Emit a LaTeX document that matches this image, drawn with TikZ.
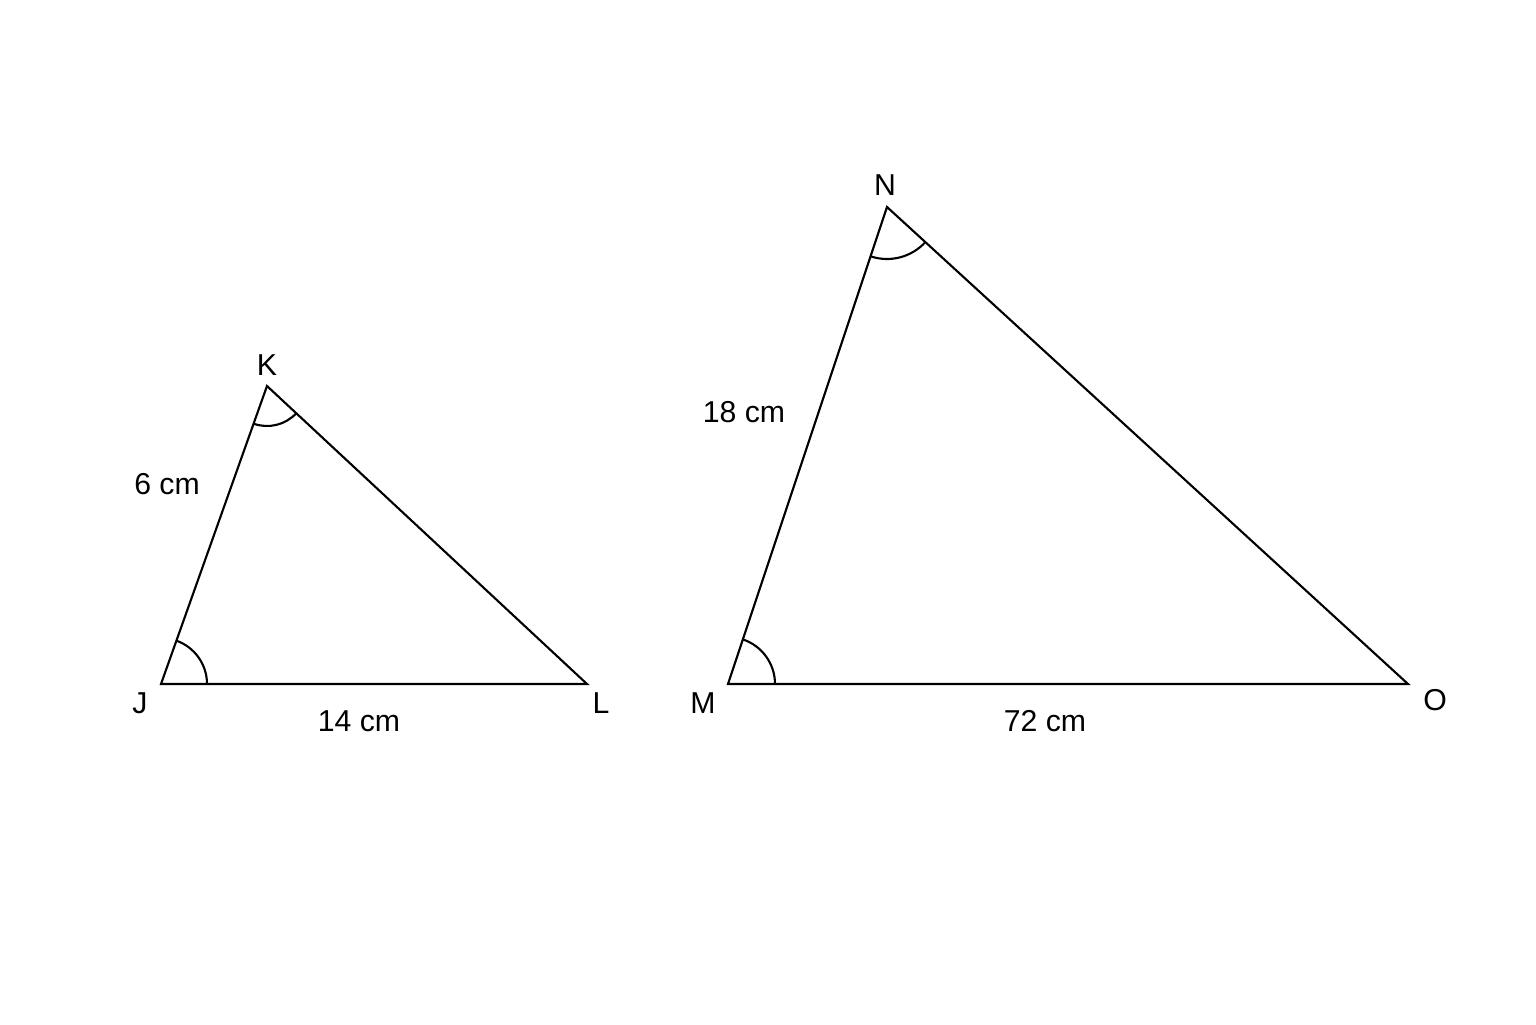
\documentclass[tikz,border=0pt]{standalone}
\usepackage{fontspec}
\setmainfont{Liberation Sans}
\usetikzlibrary{angles}

\begin{document}
\begin{tikzpicture}[line width=0.6pt, font=\fontsize{8.6}{10}\selectfont,
		mark angle/.style={draw, line width=0.6pt}]
		\useasboundingbox (0,0) rectangle (15.36,10.24);

		% small triangle
		\coordinate (J) at (1.61,3.40);
		\coordinate (K) at (2.67,6.38);
		\coordinate (L) at (5.87,3.40);

		\node at (2.67,6.59) (k) {K};
		\node at (1.40,3.21) (j) {J};
		\node at (6.01,3.21) (l) {L};
		\node at (1.67,5.40) (jk) {6 cm};
		\node at (3.59,3.03) (jl) {14 cm};

		\draw (J) -- (L) -- (K) -- cycle;
		\pic [mark angle, angle radius=0.46cm] {angle = L--J--K};
		\pic [mark angle, angle radius=0.40cm] {angle = J--K--L};

		% big triangle
		\coordinate (M) at (7.28,3.40);
		\coordinate (N) at (8.87,8.17);
		\coordinate (O) at (14.08,3.40);

		\node at (8.85,8.39) (n) {N};
		\node at (7.03,3.21) (m) {M};
		\node at (14.35,3.24) (o) {O};
		\node at (7.44,6.12) (mn) {18 cm};
		\node at (10.45,3.03) (mo) {72 cm};

		\draw (M) -- (O) -- (N) -- cycle;
		\pic [mark angle, angle radius=0.47cm] {angle = O--M--N};
		\pic [mark angle, angle radius=0.52cm] {angle = M--N--O};
	\end{tikzpicture}
\end{document}
